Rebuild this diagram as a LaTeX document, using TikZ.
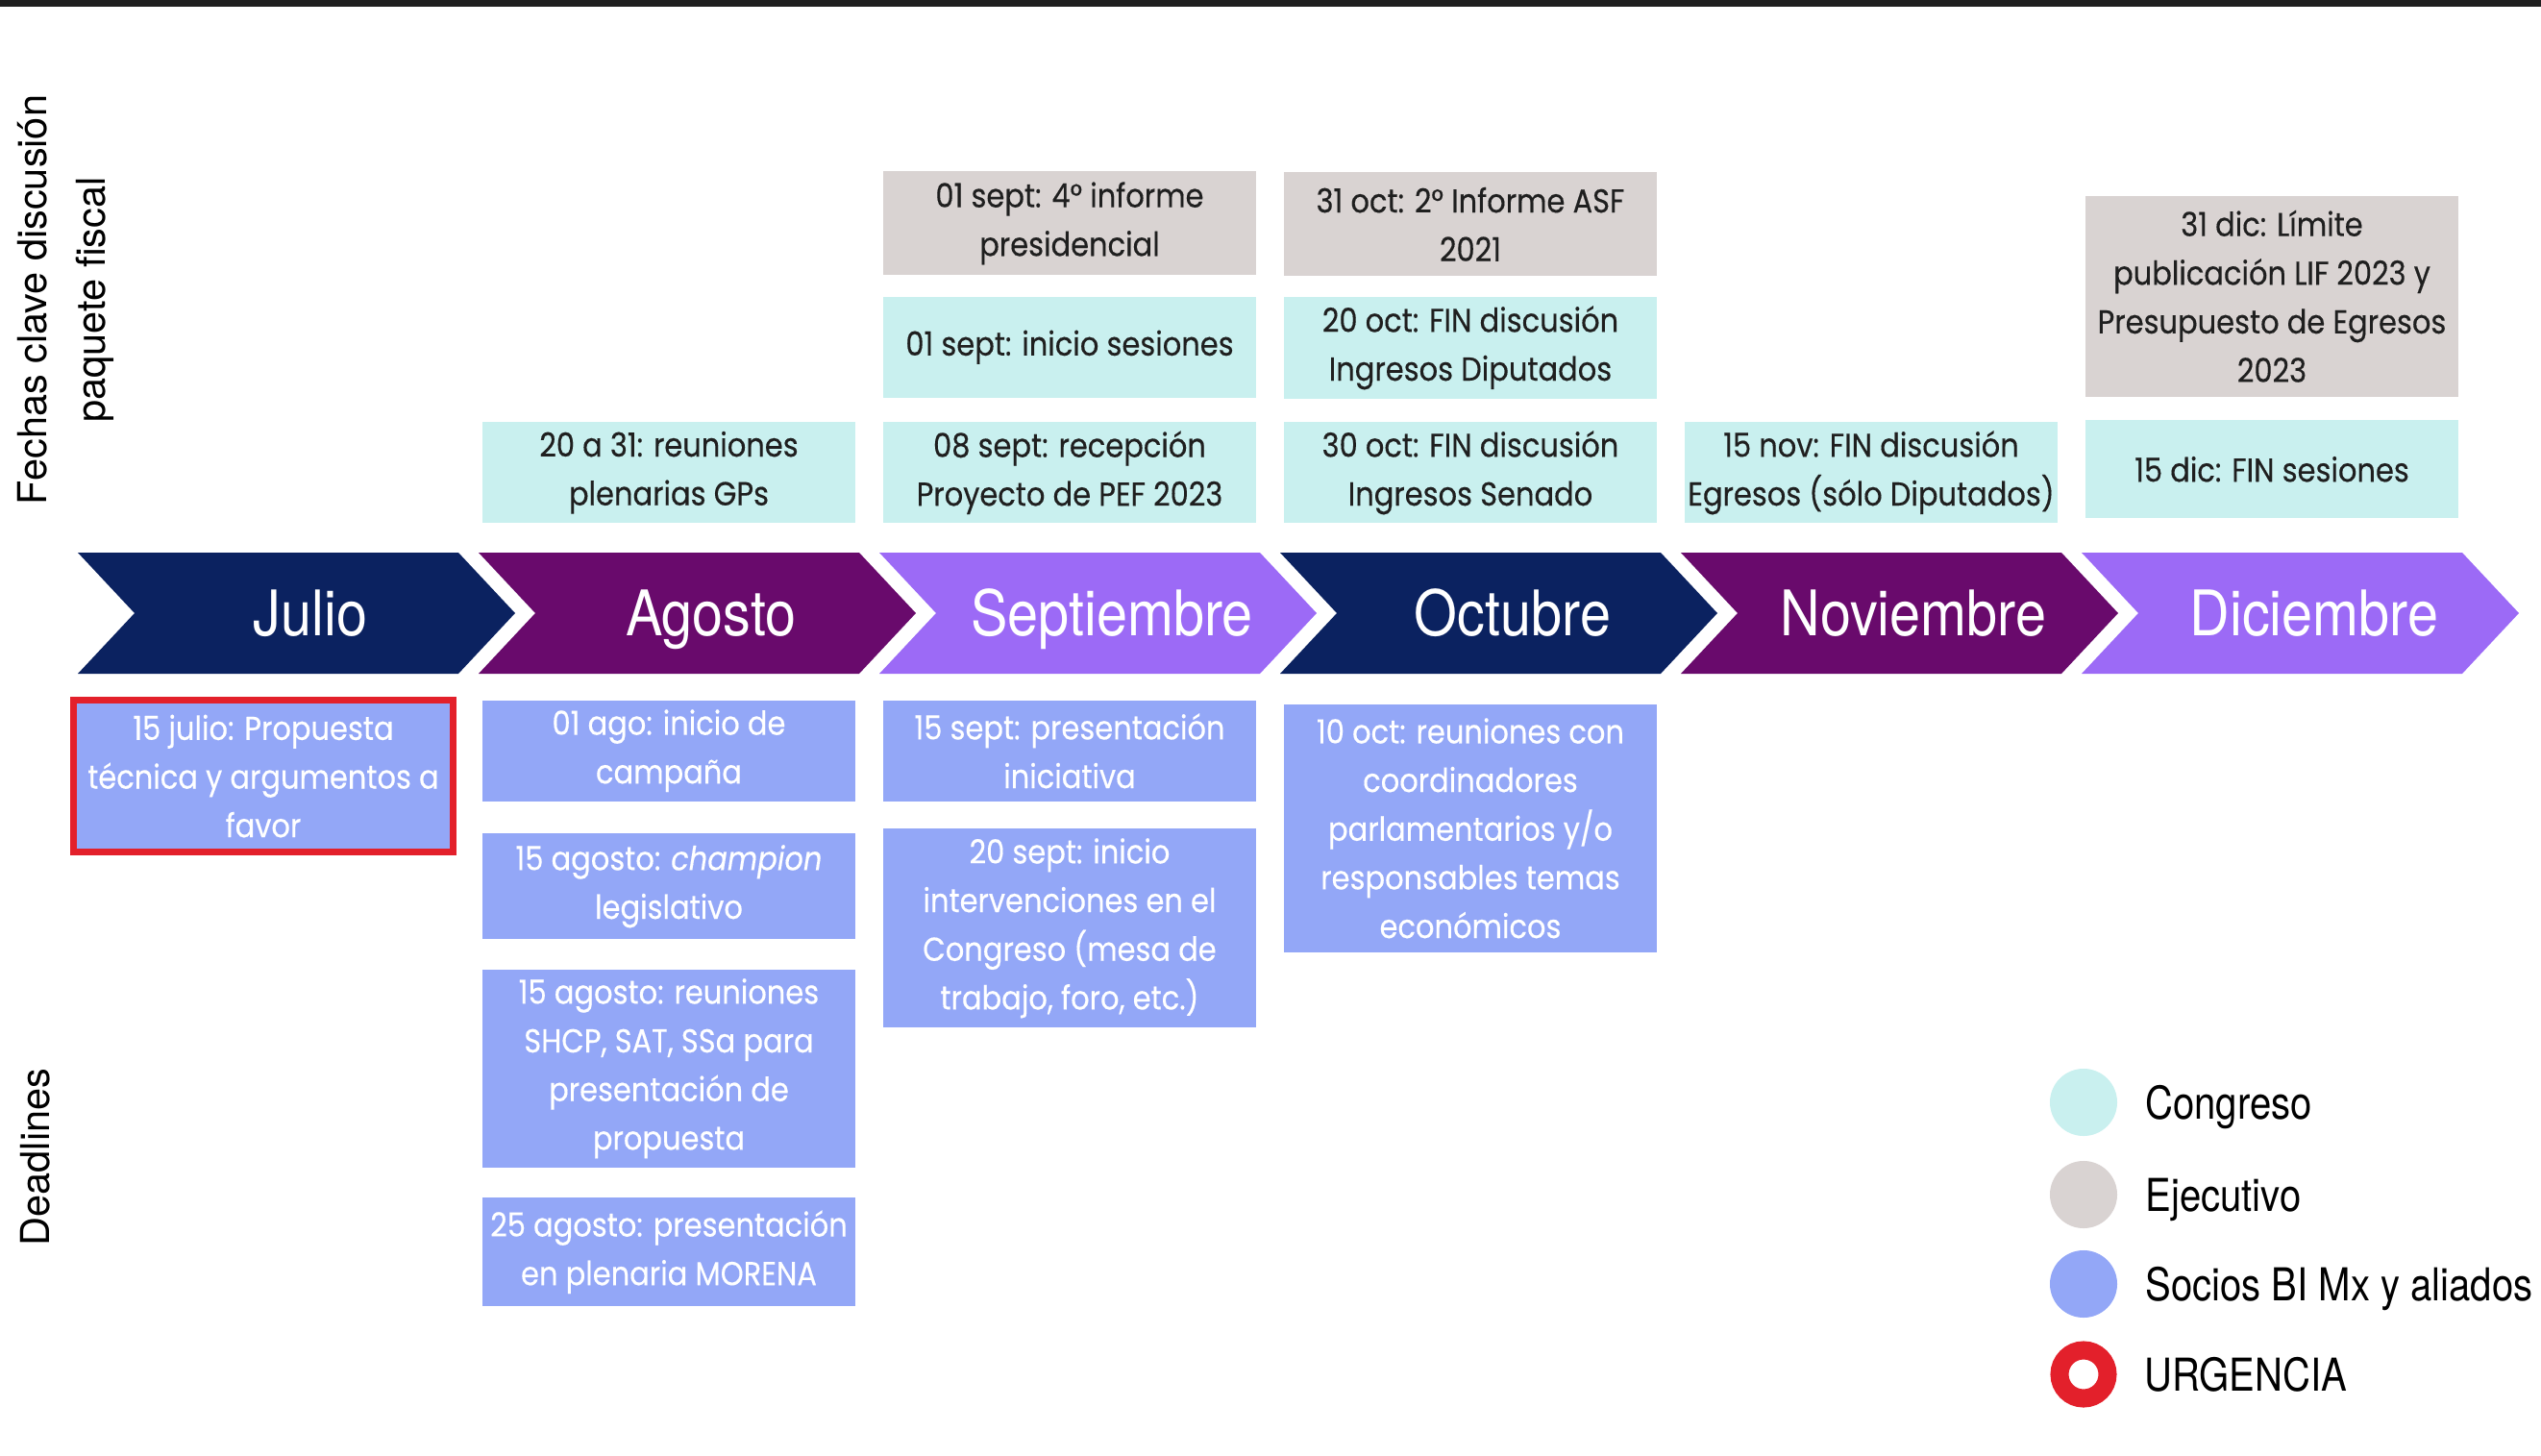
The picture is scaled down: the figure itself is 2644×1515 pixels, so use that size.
\documentclass[tikz,border=0pt]{standalone}
\usepackage{fontspec}
\setmainfont{TeX Gyre Heros}
\newfontfamily\boxfont[FakeStretch=0.885, FakeBold=0.3]{Poppins}
\newfontfamily\headfont[FakeStretch=0.88]{TeX Gyre Heros}
\newfontfamily\legendfont[FakeStretch=0.85]{TeX Gyre Heros}
\usetikzlibrary{positioning}

\definecolor{navyMonth}{HTML}{0B2260}
\definecolor{plumMonth}{HTML}{690A6C}
\definecolor{violetMonth}{HTML}{9C6AF6}
\definecolor{congresoFill}{HTML}{C9F0EF}
\definecolor{ejecutivoFill}{HTML}{D9D3D2}
\definecolor{sociosFill}{HTML}{93A7F7}
\definecolor{urgenciaRed}{HTML}{E3202B}
\definecolor{topBar}{HTML}{1F1F1F}

\begin{document}
\begin{tikzpicture}[x=0.01cm, y=-0.01cm,
    evt/.style={minimum width=3.88cm, inner sep=0pt, align=center,
        font=\boxfont\fontsize{9.8}{14.4}\selectfont},
    congreso/.style={evt, fill=congresoFill, text=black!88},
    ejecutivo/.style={evt, fill=ejecutivoFill, text=black!88},
    socios/.style={evt, fill=sociosFill, text=white},
    month/.style={text=white, text height=0.47cm, text depth=0pt, inner sep=0pt,
        font=\headfont\fontsize{18.6}{20}\selectfont},
    sideLabel/.style={rotate=90, align=center, font=\fontsize{11.8}{17.4}\selectfont},
    legendDot/.style={circle, minimum size=0.7cm, inner sep=0pt},
    legendText/.style={inner sep=0pt, text height=0.34cm, text depth=0pt,
        font=\legendfont\fontsize{13.4}{15}\selectfont}]
    \useasboundingbox (0,0) rectangle (2644,1515);
    \fill[topBar] (0,0) rectangle (2644,7);

    \node[sideLabel] (fechasLabel) at (68,312) {Fechas clave discusión\\paquete fiscal};
    \node[sideLabel] (deadlinesLabel) at (37,1204) {Deadlines};

    \foreach \m/\name/\col [count=\i from 0] in {Julio/julio/navyMonth, Agosto/agosto/plumMonth,
            Septiembre/septiembre/violetMonth, Octubre/octubre/navyMonth,
            Noviembre/noviembre/plumMonth, Diciembre/diciembre/violetMonth} {
        \pgfmathsetmacro{\xo}{81+417*\i}
        \fill[\col] (\xo,575) -- ++(396,0) -- ++(59,63) -- ++(-59,63) -- ++(-396,0) -- ++(59,-63) -- cycle;
        \node[month] (\name) at (\xo+242,638) {\m};
        \coordinate (\name Top) at (\xo+198,575);
        \coordinate (\name Bot) at (\xo+198,701);
    }

    \node[congreso, minimum height=1.05cm, above=0.3cm of agostoTop] (gpReuniones) {20 a 31: reuniones\\plenarias GPs};

    \node[congreso, minimum height=1.05cm, above=0.3cm of septiembreTop] (sepRecepcion) {08 sept: recepción\\Proyecto de PEF 2023};
    \node[congreso, minimum height=1.05cm, above=0.24cm of sepRecepcion] (sepSesiones) {01 sept: inicio sesiones};
    \node[ejecutivo, minimum height=1.08cm, above=0.21cm of sepSesiones] (sepInforme) {01 sept: 4° informe\\presidencial};

    \node[congreso, minimum height=1.05cm, above=0.3cm of octubreTop] (octSenado) {30 oct: FIN discusión\\Ingresos Senado};
    \node[congreso, minimum height=1.06cm, above=0.23cm of octSenado] (octDiputados) {20 oct: FIN discusión\\Ingresos Diputados};
    \node[ejecutivo, minimum height=1.08cm, above=0.2cm of octDiputados] (octAsf) {31 oct: 2° Informe ASF\\2021};

    \node[congreso, minimum height=1.05cm, above=0.3cm of noviembreTop] (novEgresos) {15 nov: FIN discusión\\Egresos (sólo Diputados)};

    \node[congreso, minimum height=1.02cm, above=0.35cm of diciembreTop] (dicSesiones) {15 dic: FIN sesiones};
    \node[ejecutivo, minimum height=2.09cm, above=0.23cm of dicSesiones] (dicLimite) {31 dic: Límite\\publicación LIF 2023 y\\Presupuesto de Egresos\\2023};

    \node[socios, draw=urgenciaRed, line width=0.07cm, minimum width=3.94cm, minimum height=1.58cm,
        below=0.24cm of julioBot, xshift=-0.05cm] (julPropuesta) {15 julio: Propuesta\\técnica y argumentos a\\favor};

    \node[socios, minimum height=1.05cm, below=0.27cm of agostoBot] (agoCampana) {01 ago: inicio de\\campaña};
    \node[socios, minimum height=1.1cm, below=0.32cm of agoCampana] (agoChampion) {15 agosto: \textit{champion}\\legislativo};
    \node[socios, minimum height=2.06cm, below=0.3cm of agoChampion] (agoSecretarias) {15 agosto: reuniones\\SHCP, SAT, SSa para\\presentación de\\propuesta};
    \node[socios, minimum height=1.13cm, below=0.3cm of agoSecretarias] (agoMorena) {25 agosto: presentación\\en plenaria MORENA};

    \node[socios, minimum height=1.05cm, below=0.27cm of septiembreBot] (sepIniciativa) {15 sept: presentación\\iniciativa};
    \node[socios, minimum height=2.07cm, below=0.27cm of sepIniciativa] (sepCongreso) {20 sept: inicio\\intervenciones en el\\Congreso (mesa de\\trabajo, foro, etc.)};

    \node[socios, minimum height=2.58cm, below=0.31cm of octubreBot] (octCoordinadores) {10 oct: reuniones con\\coordinadores\\parlamentarios y/o\\responsables temas\\económicos};

    \node[legendDot, fill=congresoFill] (dotCongreso) at (2168,1147) {};
    \node[legendDot, fill=ejecutivoFill] (dotEjecutivo) at (2168,1243) {};
    \node[legendDot, fill=sociosFill] (dotSocios) at (2168,1336) {};
    \node[circle, draw=urgenciaRed, line width=0.19cm, minimum size=0.5cm, inner sep=0pt] (dotUrgencia) at (2168,1430) {};
    \node[legendText, right=0.28cm of dotCongreso] (txtCongreso) {Congreso};
    \node[legendText, right=0.28cm of dotEjecutivo] (txtEjecutivo) {Ejecutivo};
    \node[legendText, right=0.28cm of dotSocios] (txtSocios) {Socios BI Mx y aliados};
    \node[legendText, right=0.28cm of dotUrgencia] (txtUrgencia) {URGENCIA};
\end{tikzpicture}
\end{document}
